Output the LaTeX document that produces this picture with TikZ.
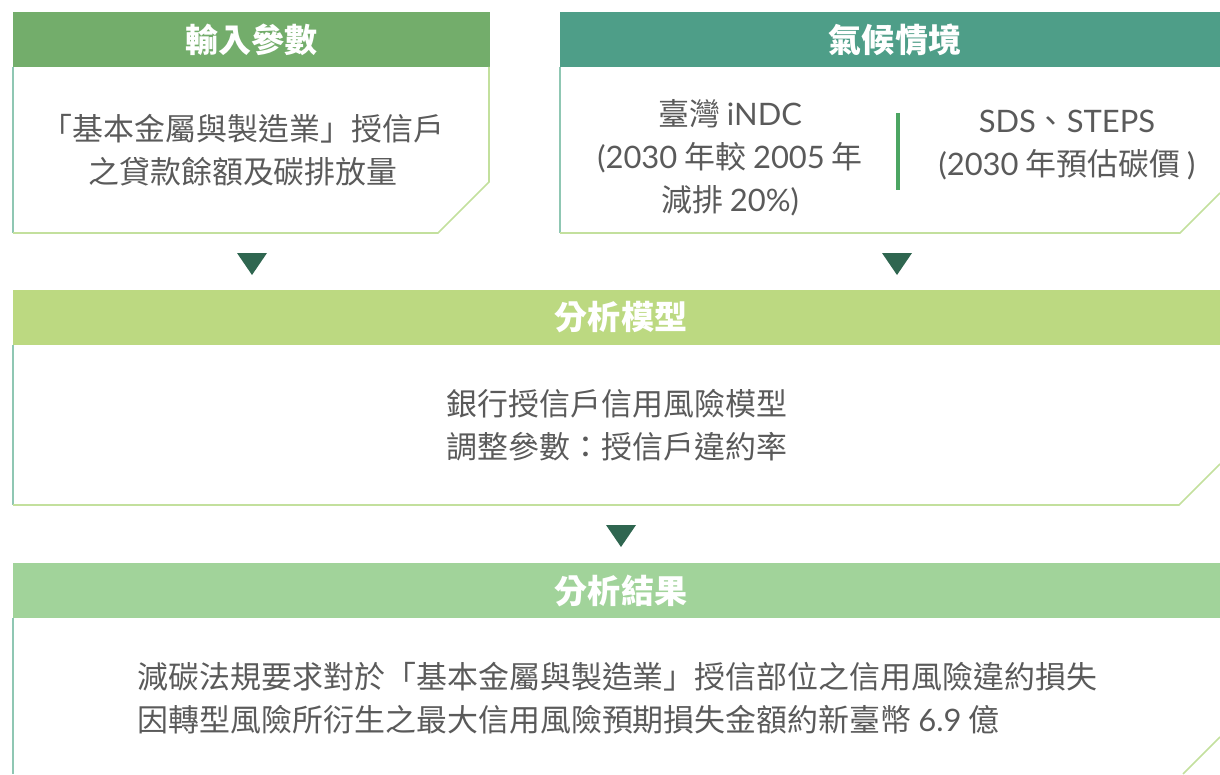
\documentclass[tikz,border=0pt]{standalone}
\usepackage{fontspec}
\setmainfont{Noto Sans CJK TC}
\newfontfamily\latin{Lato}
\definecolor{hdrone}{HTML}{73AD6B}
\definecolor{hdrtwo}{HTML}{4E9E88}
\definecolor{hdrthree}{HTML}{BCD981}
\definecolor{hdrfour}{HTML}{A1D39A}
\definecolor{tricol}{HTML}{2F6650}
\definecolor{edgeleft}{HTML}{8FC7B3}
\definecolor{edgebottom}{HTML}{C3E09D}
\definecolor{bodytext}{HTML}{5A5A5A}
\definecolor{divcol}{HTML}{4CA562}

\begin{document}
\begin{tikzpicture}[x=0.025cm,y=-0.025cm,
		hdrtext/.style={text=white,font=\fontsize{23.5}{28}\selectfont\bfseries},
		bodytxt/.style={text=bodytext,align=center,font=\fontsize{22}{30.6}\selectfont},
		leftline/.style={draw=edgeleft,line width=1.1pt},
		bottomline/.style={draw=edgebottom,line width=1.1pt},
		tri/.style={fill=tricol}]
		\useasboundingbox (0,0) rectangle (1220,774);
		% input box
		\fill[hdrone] (13,12) rectangle (490,67);
		\node[hdrtext] (inhead) at (251.5,39.5) {輸入參數};
		\draw[leftline] (13,67)--(13,233);
		\draw[bottomline] (13,233)--(438,233)--(489,182)--(489,67);
		\node[bodytxt] (inbody) at (243,150) {「基本金屬與製造業」授信戶\\之貸款餘額及碳排放量};
		% climate box
		\fill[hdrtwo] (560,12) rectangle (1220,67);
		\node[hdrtext] (cliphead) at (895,39.5) {氣候情境};
		\draw[leftline] (560,67)--(560,233);
		\draw[bottomline] (560,233)--(1180,233)--(1220,193);
		\node[bodytxt] (indc) at (730,158) {臺灣 {\latin iNDC}\\{\latin (2030} 年較 {\latin 2005} 年\\減排 {\latin 20\%)}};
		\node[bodytxt] (sds) at (1067,145) {{\latin SDS}、{\latin STEPS}\\{\latin (2030} 年預估碳價 {\latin )}};
		\draw[divcol,line width=2.4pt] (898,113)--(898,190);
		% arrows
		\fill[tri] (237,253)--(267,253)--(252,275)--cycle;
		\fill[tri] (882,253)--(912,253)--(897,275)--cycle;
		% model box
		\fill[hdrthree] (13,290) rectangle (1220,345);
		\node[hdrtext] (modhead) at (621,317.5) {分析模型};
		\draw[leftline] (13,345)--(13,505);
		\draw[bottomline] (13,505)--(1179,505)--(1220,464);
		\node[bodytxt] (modbody) at (617,425) {銀行授信戶信用風險模型\\調整參數：授信戶違約率};
		\fill[tri] (606,525)--(636,525)--(621,547)--cycle;
		% result box
		\fill[hdrfour] (13,563) rectangle (1220,618);
		\node[hdrtext] (reshead) at (621,590.5) {分析結果};
		\draw[leftline] (13,618)--(13,774);
		\draw[bottomline] (1183,774)--(1220,737);
		\node[bodytxt,align=left,anchor=west] (resbody) at (133,698) {減碳法規要求對於「基本金屬與製造業」授信部位之信用風險違約損失\\因轉型風險所衍生之最大信用風險預期損失金額約新臺幣 {\latin 6.9} 億};
	\end{tikzpicture}
\end{document}
